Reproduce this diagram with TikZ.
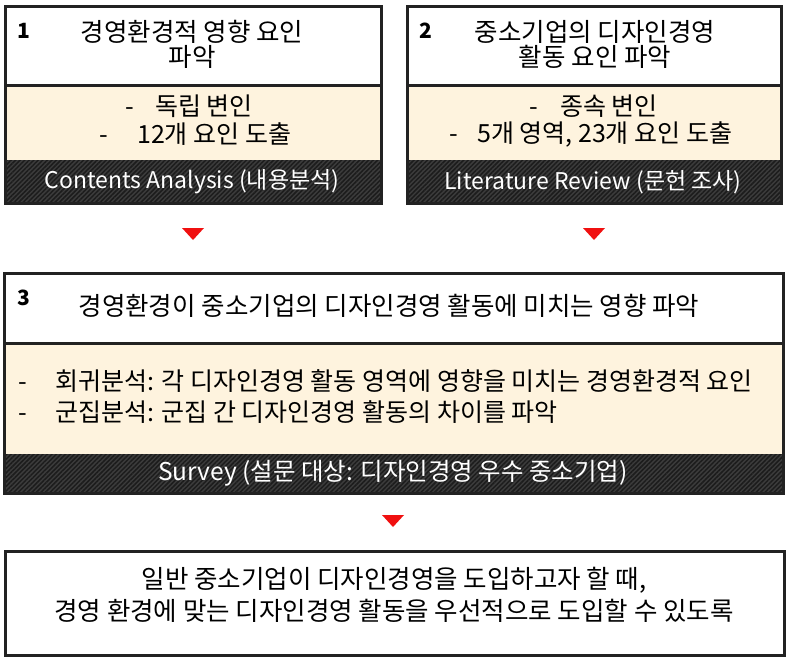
\documentclass[tikz,border=0pt]{standalone}
\usepackage{fontspec}
\setmainfont{Noto Sans CJK KR}
\usetikzlibrary{patterns.meta}
\definecolor{beige}{HTML}{FEF3DE}
\definecolor{band}{HTML}{3C3C3C}
\definecolor{stripe}{HTML}{1C1C1C}
\definecolor{edge}{HTML}{222222}
\definecolor{tri}{HTML}{F01010}
\newcommand{\bulletdash}[1]{\makebox[#1][l]{-}}
\begin{document}
\begin{tikzpicture}[x=1bp,y=-1bp,
  ttl/.style={font=\fontsize{25.5bp}{25bp}\selectfont, inner sep=0, anchor=center, align=center},
  bul/.style={font=\fontsize{25bp}{26bp}\selectfont, inner sep=0, anchor=west},
  bul3/.style={font=\fontsize{25bp}{26bp}\selectfont, inner sep=0, anchor=west},
  fin/.style={font=\fontsize{25.5bp}{32bp}\selectfont, inner sep=0, anchor=center, align=center},
  num/.style={font=\fontsize{21bp}{22bp}\selectfont\bfseries, inner sep=0, anchor=west},
  bandtxt/.style={font=\fontsize{23bp}{24bp}\selectfont, inner sep=0, anchor=center, text=white},
  frame/.style={draw=edge, line width=3bp},
  divider/.style={draw=edge, line width=3bp},
  beigearea/.style={fill=beige},
  hatch/.style={fill=band, postaction={pattern={Lines[angle=45,distance=3.2bp,line width=1.5bp]}, pattern color=stripe}},
  marker/.style={fill=tri}]
\useasboundingbox (0,0) rectangle (789,660);
\fill[white] (0,0) rectangle (789,660);

% ---------- Box 1 ----------
\path[beigearea] (5,86) rectangle (381,160);
\path[hatch] (5,160) rectangle (381,203);
\draw[divider] (5,86) -- (381,86);
\draw[frame] (5,7) rectangle (381,203);
\node[num] (n1) at (17,31) {1};
\node[ttl] (t1) at (192,44) {경영환경적 영향 요인\\파악};
\node[bul] (b1a) at (125,106) {\bulletdash{30bp}독립 변인};
\node[bul] (b1b) at (99,134) {\bulletdash{38bp}12개 요인 도출};
\node[bandtxt] (s1) at (192,182) {Contents Analysis (내용분석)};

% ---------- Box 2 ----------
\path[beigearea] (407,86) rectangle (781,160);
\path[hatch] (407,160) rectangle (781,203);
\draw[divider] (407,86) -- (781,86);
\draw[frame] (407,7) rectangle (781,203);
\node[num] (n2) at (419,31) {2};
\node[ttl] (t2) at (595,44) {중소기업의 디자인경영\\활동 요인 파악};
\node[bul] (b2a) at (529,106) {\bulletdash{31bp}종속 변인};
\node[bul] (b2b) at (449,134) {\bulletdash{28bp}5개 영역, 23개 요인 도출};
\node[bandtxt] (s2) at (593,182) {Literature Review (문헌 조사)};

% ---------- markers ----------
\coordinate (m1) at (193,234);
\coordinate (m2) at (594,234);
\coordinate (m3) at (393,521);
\fill[marker] (m1) ++(-11,-6) -- ++(22,0) -- ++(-11,12) -- cycle;
\fill[marker] (m2) ++(-11,-6) -- ++(22,0) -- ++(-11,12) -- cycle;
\fill[marker] (m3) ++(-11,-6) -- ++(22,0) -- ++(-11,12) -- cycle;

% ---------- Box 3 ----------
\path[beigearea] (4,343) rectangle (783,454);
\path[hatch] (4,454) rectangle (783,493);
\draw[divider] (4,343) -- (783,343);
\draw[frame] (4,273) rectangle (783,493);
\node[num] (n3) at (17,298) {3};
\node[ttl] (t3) at (389,306) {경영환경이 중소기업의 디자인경영 활동에 미치는 영향 파악};
\node[bul3] (b3a) at (18,381) {\bulletdash{37bp}회귀분석: 각 디자인경영 활동 영역에 영향을 미치는 경영환경적 요인};
\node[bul3] (b3b) at (18,412) {\bulletdash{37bp}군집분석: 군집 간 디자인경영 활동의 차이를 파악};
\node[bandtxt, font=\fontsize{24.5bp}{26bp}\selectfont] (s3) at (393,473) {Survey (설문 대상: 디자인경영 우수 중소기업)};

% ---------- Box 4 ----------
\draw[frame] (5,551) rectangle (784,655);
\node[fin] (t4) at (394,595) {일반 중소기업이 디자인경영을 도입하고자 할 때,\\경영 환경에 맞는 디자인경영 활동을 우선적으로 도입할 수 있도록};
\end{tikzpicture}
\end{document}
